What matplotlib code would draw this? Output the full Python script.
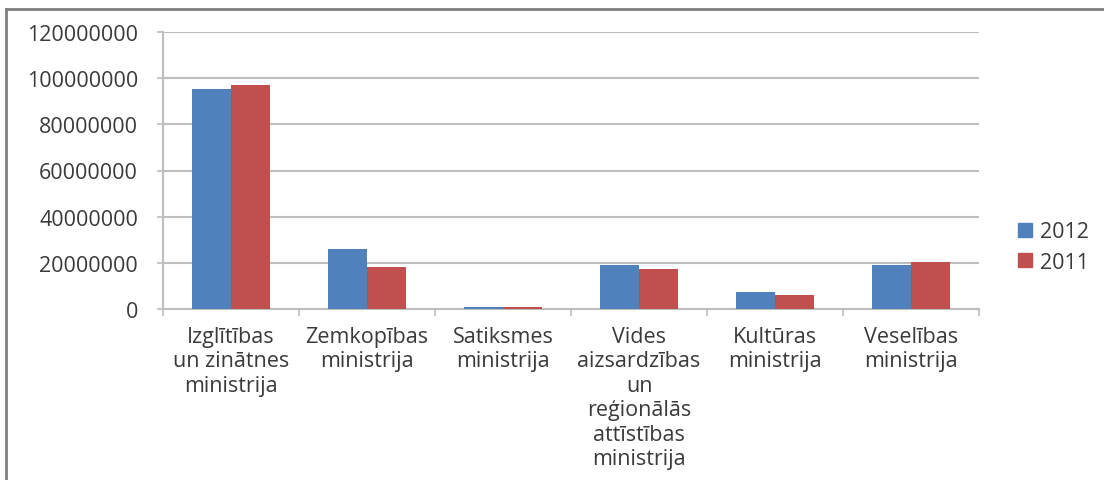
import matplotlib.pyplot as plt
import numpy as np
from matplotlib.lines import Line2D

# Dati
categories = [
    "Izglītības\nun zinātnes\nministrija",
    "Zemkopības\nministrija",
    "Satiksmes\nministrija",
    "Vides\naizsardzības\nun\nreģionālās\nattīstības\nministrija",
    "Kultūras\nministrija",
    "Veselības\nministrija",
]
values_2012 = [95300000, 26000000, 800000, 19200000, 7200000, 19100000]
values_2011 = [97000000, 18200000, 700000, 17300000, 6200000, 20200000]
yticks = [0, 20000000, 40000000, 60000000, 80000000, 100000000, 120000000]

blue = "#4F81BD"
red = "#C0504D"
txt = "#3A3A3A"
grid = "#BEBEBE"
fs = 15.5

plt.rcParams["font.family"] = ["Open Sans", "DejaVu Sans"]

fig = plt.figure(figsize=(11.04, 4.81), dpi=100)
ax = fig.add_axes([163 / 1104, 1 - 310 / 481, (979 - 163) / 1104, (310 - 33) / 481])

x = np.arange(len(categories))
w = 1 / 3.5
ax.bar(x - w / 2, values_2012, w, color=blue, label="2012", zorder=3)
ax.bar(x + w / 2, values_2011, w, color=red, label="2011", zorder=3)

ax.set_xlim(-0.5, len(categories) - 0.5)
ax.set_ylim(0, 120000000)
ax.set_yticks(yticks)
ax.set_yticklabels([str(v) for v in yticks])
ax.yaxis.grid(True, color=grid, linewidth=1.5, zorder=0)
ax.set_axisbelow(True)

for s in ["top", "right"]:
    ax.spines[s].set_visible(False)
for s in ["left", "bottom"]:
    ax.spines[s].set_color(grid)
    ax.spines[s].set_linewidth(1.5)

ax.tick_params(axis="y", length=4, width=1.2, color=grid, pad=14, labelsize=fs, labelcolor=txt)
ax.set_xticks(np.arange(-0.5, len(categories), 1.0))
ax.set_xticklabels([])
ax.tick_params(axis="x", length=5, width=1.2, color=grid)

for i, c in enumerate(categories):
    ax.annotate(c, (i, 0), xycoords=("data", "axes fraction"), xytext=(0, -12),
                textcoords="offset points", ha="center", va="top", fontsize=fs,
                color=txt, linespacing=1.22)

handles = [Line2D([], [], marker="s", linestyle="", markersize=10, color=blue),
           Line2D([], [], marker="s", linestyle="", markersize=10, color=red)]
fig.legend(handles, ["2012", "2011"], loc="center left", bbox_to_anchor=(1016 / 1104, 1 - 248 / 481),
           frameon=False, fontsize=fs, handlelength=0.8, handletextpad=0.3, labelspacing=0.45,
           borderpad=0, borderaxespad=0, labelcolor=txt)

# ramis
fig.add_artist(Line2D([6 / 1104, 6 / 1104], [0, 1 - 10 / 481], transform=fig.transFigure, color="#808080", lw=2))
fig.add_artist(Line2D([6 / 1104, 1], [1 - 10 / 481, 1 - 10 / 481], transform=fig.transFigure, color="#808080", lw=2))

fig.savefig("out.png", dpi=100)
plt.close("all")
